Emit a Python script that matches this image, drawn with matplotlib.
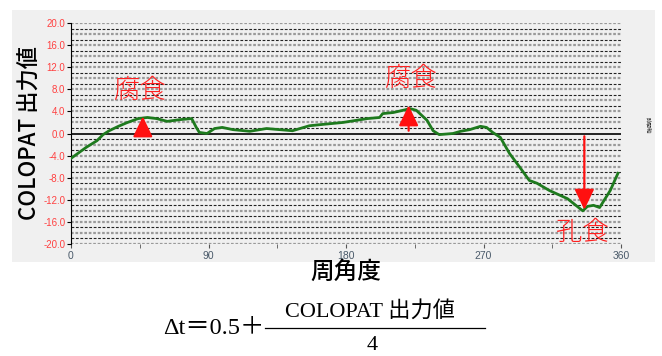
import matplotlib
matplotlib.use("Agg")
import matplotlib.pyplot as plt
from matplotlib.patches import Rectangle
import numpy as np

plt.rcParams['font.family'] = ['Noto Sans CJK JP', 'DejaVu Sans']

# data
angle = [0, 5, 10, 17, 21, 25, 31, 37, 44, 50, 56, 63, 71, 79, 82, 84, 89, 94, 99,
         106, 117, 128, 145, 156, 163, 178, 194, 202, 204, 211, 222, 226, 233, 237,
         241, 250, 255, 261, 268, 272, 276, 281, 287, 294, 300, 305, 313, 325, 335,
         338, 342, 346, 353, 358]
colopat = [-4.5, -3.5, -2.5, -1.3, -0.2, 0.5, 1.3, 2.0, 2.7, 2.9, 2.7, 2.2, 2.5, 2.7,
           1.1, 0.2, 0.0, 0.9, 1.1, 0.7, 0.4, 0.9, 0.5, 1.4, 1.6, 2.0, 2.7, 2.9, 3.6,
           3.8, 4.5, 4.2, 2.4, 0.5, -0.2, 0.0, 0.4, 0.7, 1.3, 1.1, 0.2, -0.7, -3.6,
           -6.2, -8.5, -9.0, -10.3, -11.8, -14.0, -13.2, -13.0, -13.4, -10.3, -7.2]

xticks = [0, 90, 180, 270, 360]
minor_xticks = [45, 135, 225, 315]
yticks = [-20, -16, -12, -8, -4, 0, 4, 8, 12, 16, 20]

# annotations: (angle, start, end)
arrows = [(47, 0, 3.6), (221, 0, 5.6), (336, 0, -14.3)]
labels = [("腐食", 45, 7.8), ("腐食", 222, 10.0), ("孔食", 335, -17.9)]

fig = plt.figure(figsize=(6.62, 3.56), dpi=100)
fig.patch.set_facecolor('white')
panel = Rectangle((12/662, 1-262/356), (655-12)/662, (262-10)/356,
                  transform=fig.transFigure, facecolor='#f0f0f0', edgecolor='none', zorder=-10)
fig.patches.append(panel)

ax = fig.add_axes([71/662, 1-244/356, 550/662, 221/356])
ax.set_zorder(1)
ax.set_facecolor('#f0f0f0')
ax.set_xlim(0, 360)
ax.set_ylim(-20, 20)

for v in range(-20, 21):
    if v == 0:
        continue
    if v % 2 == 0:
        ax.axhline(v, color='#9a9a9a', lw=1.6, ls=(0, (1.2, 0.8)), zorder=1)
    else:
        ax.axhline(v, color='#222222', lw=0.8, ls=(0, (2.5, 1.5)), zorder=1)
ax.axhline(0, color='black', lw=1.2, zorder=2)

ax.plot(angle, colopat, color='#1e7a1e', lw=2.0, zorder=4)

for a, s, e in arrows:
    ax.annotate('', xy=(a, e), xytext=(a, s),
                arrowprops=dict(arrowstyle='-|>,head_length=1.25,head_width=0.6',
                                color='#ff1010', lw=1.6), zorder=5)
for t, a, v in labels:
    ax.text(a, v, t, color='#ff2020', fontsize=19, fontweight='light',
            ha='center', va='center', zorder=6)

for s in ['top', 'right', 'bottom']:
    ax.spines[s].set_visible(False)
ax.spines['left'].set_color('black')

ax.set_yticks(yticks)
ax.set_yticklabels([f"{y:.1f}" for y in yticks], color='#ff4040', fontsize=7,
                   family=['Liberation Sans'])
ax.set_xticks(xticks)
ax.set_xticklabels([str(x) for x in xticks], color='#4a5a6a', fontsize=7.5,
                   family=['Liberation Sans'])
ax.set_xticks(minor_xticks, minor=True)
ax.tick_params(axis='x', which='both', length=3, color='#555555', pad=2)
ax.tick_params(axis='y', length=3, pad=1)

ax.set_ylabel('COLOPAT 出力値', fontsize=16, fontweight='medium', labelpad=2)
ax.set_xlabel('周角度', fontsize=17, fontweight='medium', labelpad=0)

fig.text(648/662, 1-125/356, '時間軸', fontsize=4, rotation=-90, ha='center', va='center',
         color='#333333')

# formula
serif = ['Liberation Serif', 'Noto Sans CJK JP']
fig.text(163/662, 1-328/356, 'Δt＝0.5＋', fontsize=17.5, family=serif, ha='left', va='center')
fig.text(370/662, 1-311/356, 'COLOPAT 出力値', fontsize=16, family=serif, ha='center', va='center')
fig.lines.append(plt.Line2D([265/662, 485/662], [1-328/356, 1-328/356],
                            transform=fig.transFigure, color='black', lw=0.9))
fig.text(372/662, 1-346/356, '4', fontsize=16, family=serif, ha='center', va='center')

fig.savefig('out.png', dpi=100)
